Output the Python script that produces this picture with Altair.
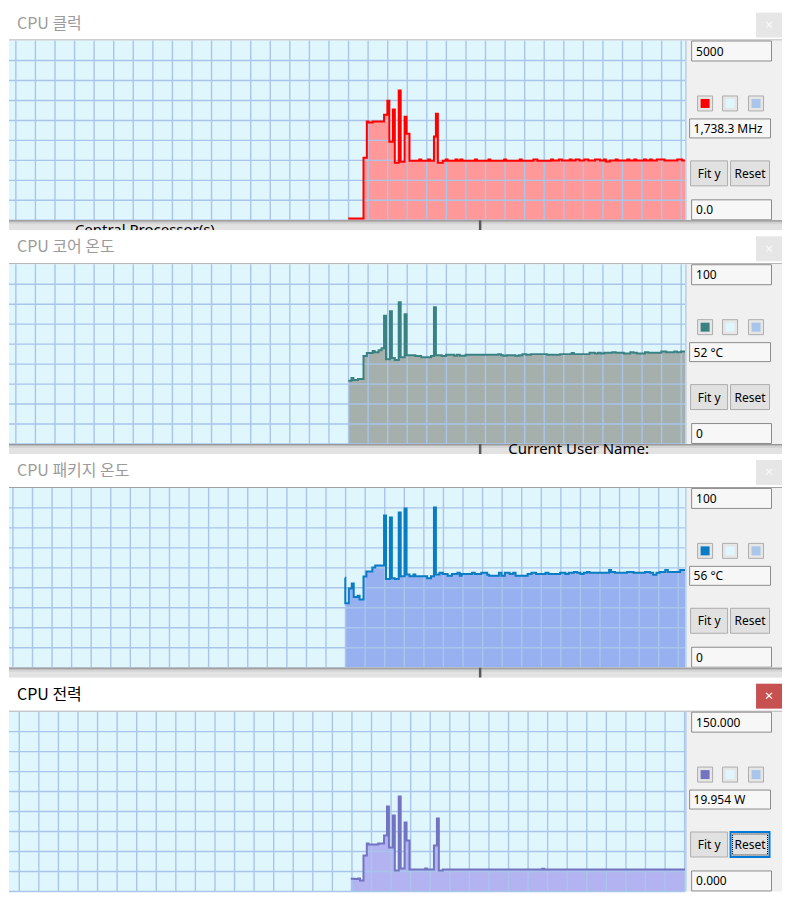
import altair as alt
import pandas as pd

# ---------------- data (time axis in graph steps, values in sensor units) ----------------
clock_t = [346.7, 362.3, 365.7, 367.3, 371.7, 383.3, 386.7, 388.7, 392.3, 394.3, 398.3, 400.3,
           404.3, 406.3, 409.3, 419.3, 421.3, 428.3, 430.3, 434.3, 436.3, 438.3, 443.3, 446.3,
           448.3, 456.3, 458.3, 461.3, 463.3, 476.3, 478.3, 490, 492, 506, 508, 522, 524, 536,
           540, 554, 556, 562, 565, 573, 575, 579, 583, 588, 592, 599, 604, 608, 610, 614, 620,
           622, 632, 634, 639, 641, 649, 651, 655, 657, 662, 670, 683, 688, 691]
clock_mhz = [50, 1742, 2750, 2720, 2750, 2935, 3325, 2186, 3083, 1602, 3611, 1630,
             2880, 2408, 1655, 1690, 1655, 1690, 1655, 2333, 2963, 1602, 1655, 1690,
             1655, 1690, 1655, 1690, 1655, 1690, 1655, 1690, 1655, 1690, 1655, 1690, 1655, 1690,
             1655, 1690, 1660, 1690, 1660, 1690, 1660, 1690, 1660, 1690, 1660, 1690, 1660, 1690, 1635, 1660, 1690,
             1660, 1690, 1660, 1690, 1660, 1690, 1660, 1690, 1660, 1690, 1660, 1690, 1660, 1660]

core_t = [346.7, 350, 352, 356.7, 362.3, 365.7, 371.7, 373.7, 377.7, 380.7, 383.3, 385.3, 389.3,
          391.3, 394.3, 398.3, 400.3, 404.3, 406.3, 415.3, 421.3, 431.3, 434.3, 436.3, 442.3,
          446.7, 455, 457.7, 460.7, 466.7, 500, 502.7, 505.3, 508.7, 517.3, 521.3, 524.7, 528.7,
          533.3, 550, 563.3, 575, 577.3, 593.3, 598.7, 602, 604.7, 608.3, 616.7, 620, 628.3, 635,
          638.3, 641.7, 650, 653.3, 666.7, 671.7, 680, 682.7, 686.7, 691]
core_c = [35.2, 36.7, 35.6, 36.1, 48.9, 50.6, 51.7, 51.1, 52.2, 53.3, 71.3, 47.2, 73.9,
          47.8, 46.7, 78.9, 48.3, 72.2, 49.4, 48.9, 48.3, 48.9, 76.1, 49.4, 48.9,
          49.6, 49.1, 49.6, 49.1, 49.6, 50.0, 49.4, 49.1, 49.4, 49.1, 49.4, 50.0, 49.6,
          50.0, 49.6, 50.0, 50.6, 50.0, 50.7, 50.3, 50.7, 50.3, 50.7, 51.1, 50.7, 50.3, 51.1,
          50.7, 50.3, 51.1, 50.7, 51.4, 51.1, 51.4, 51.1, 51.4, 51.4]

pkg_t = [343.3, 343.7, 347.3, 350.3, 352.3, 356.3, 358.3, 362.3, 365.3, 371.3, 374.3, 383.3,
         385.3, 389.3, 391.3, 394.3, 398.3, 400.3, 404.3, 406.3, 409.3, 413.3, 415.3, 427.3,
         431.3, 434.3, 436.3, 440, 443.3, 448.3, 452.7, 458.3, 460.7, 462.7, 473.3, 476, 482.7,
         488.7, 490.7, 500.7, 503.3, 506.7, 511.7, 515.3, 517.7, 530, 534, 538.7, 548.3, 551.3,
         563.3, 568.7, 572, 577.3, 580.7, 584, 587.3, 590.7, 593.3, 613.3, 615.3, 619.3, 631.7,
         638.3, 650, 655, 658.3, 661.7, 665, 670.7, 673.3, 686, 691]
pkg_c = [50.0, 35.8, 44.1, 46.9, 39.4, 40.0, 38.0, 50.8, 53.5, 55.8, 56.9, 84.7,
         49.3, 83.6, 49.8, 49.3, 86.3, 50.9, 88.6, 51.9, 50.9, 51.9, 50.9, 49.8,
         50.9, 89.1, 51.9, 52.8, 52.2, 51.1, 52.2, 52.8, 51.1, 52.2, 52.8, 52.2, 52.8,
         51.7, 51.1, 52.8, 51.1, 52.8, 52.2, 52.8, 51.1, 52.2, 52.8, 52.2, 52.8, 52.2,
         52.8, 52.2, 52.8, 53.3, 52.8, 52.2, 52.8, 53.3, 52.8, 54.4, 53.3, 52.8, 53.3,
         52.8, 53.3, 52.8, 51.7, 52.8, 53.3, 54.4, 53.3, 54.4, 54.4]

power_t = [349.3, 353.3, 356.7, 358.7, 362.3, 365.7, 367.3, 377.3, 383.3, 386.3, 388.3, 392.3,
           394.3, 398.3, 400.3, 404.3, 406.3, 409.3, 425.3, 427.3, 434.3, 437.3, 439.3, 443.3,
           545, 547, 691]
power_w = [10.5, 10.3, 10.8, 9.2, 30.0, 40.0, 39.2, 40.0, 46.7, 70.8, 36.7, 63.3,
           17.5, 79.2, 19.2, 57.5, 42.5, 18.3, 19.2, 18.3, 38.3, 60.8, 17.5, 18.3,
           19.0, 18.3, 18.3]

titles = ["CPU 클럭", "CPU 코어 온도", "CPU 패키지 온도", "CPU 전력"]
y_max = [5000, 100, 100, 150]
top_labels = ["5000", "100", "100", "150.000"]
current_labels = ["1,738.3 MHz", "52 °C", "56 °C", "19.954 W"]
bottom_labels = ["0.0", "0", "0", "0.000"]

# ---------------- style ----------------
W_PLOT, W_CTRL = 677, 97
W_ALL = W_PLOT + W_CTRL
H_PLOT, H_GAP = 180, 10
T_MAX = 691
BG = "#e0f6fd"
GRID = "#a9c5ea"
PANEL = "#f0f0f0"
FILLS = ["#ff9999", "#a5b0ad", "#97b0f0", "#b3b3f2"]
LINES = ["#ff0000", "#3a8282", "#0a7cc4", "#7373c2"]
GRID_OFF = [7, 7, 4, 10.5]
UI_FONT = "Noto Sans"
KR_FONT = "Noto Sans CJK KR"


def blank():
    return alt.Chart(alt.Data(values=[{}]))


def rect(x1, x2, y1, y2, fill, stroke=None, sw=1, dash=None, fill_opacity=None):
    kw = {"fill": fill}
    if stroke is not None:
        kw["stroke"] = stroke
        kw["strokeWidth"] = sw
    if dash is not None:
        kw["strokeDash"] = dash
    if fill_opacity is not None:
        kw["fillOpacity"] = fill_opacity
    return blank().mark_rect(**kw).encode(
        x=alt.value(x1), x2=alt.value(x2), y=alt.value(y1), y2=alt.value(y2))


def label(x, y, s, size=12, color="#000000", align="left", font=UI_FONT,
          baseline="middle", clip=False):
    return blank().mark_text(text=s, fontSize=size, color=color, align=align,
                             font=font, baseline=baseline, clip=clip).encode(
        x=alt.value(x), y=alt.value(y))


def title_bar(text, active, h):
    layers = [
        rect(0, W_ALL, 0, h, "#ffffff"),
        label(8, h - 17, text, size=16, color="#000000" if active else "#9b9b9b", font=KR_FONT),
        rect(W_ALL - 26, W_ALL, h - 28, h - 3, "#c75050" if active else "#e6e6e6"),
        label(W_ALL - 13, h - 15.5, "×", size=15, color="#ffffff" if active else "#f9f9f9",
              align="center"),
        rect(0, W_ALL, h - 1, h, "#a0a0a0"),
    ]
    return alt.layer(*layers).properties(width=W_ALL, height=h)


def gap_bar(text=None, tx=0, ty=0):
    layers = [rect(0, W_ALL, 0, H_GAP, "#e2e2e2"),
              rect(0, W_ALL, 0, 4, "#d4d4d4"),
              rect(0, W_ALL, 0, 2, "#b8b8b8"),
              rect(0, W_ALL, 0, 1, "#9a9a9a")]
    if text:
        layers.append(label(tx, ty, text, size=15, color="#000000", baseline="top", clip=True))
    layers.append(rect(470.5, 473, 0, H_GAP, "#5a5a5a"))
    return alt.layer(*layers).properties(width=W_ALL, height=H_GAP)


def controls(i):
    o = W_PLOT
    box_fill, box_stroke = "#f7f7f7", "#8c8c8c"
    btn_fill, btn_stroke = "#e1e1e1", "#adadad"
    L = [rect(o, o + W_CTRL, 0, H_PLOT, PANEL),
         rect(o, o + 1.5, 0, H_PLOT, "#b9cde6"),
         rect(o + 6.5, o + 86.5, 0.5, 20.5, box_fill, box_stroke),
         label(o + 11, 11, top_labels[i])]
    for sx, col in zip([12.5, 37.5, 63.5], [LINES[i], BG, GRID]):
        L.append(rect(o + sx, o + sx + 15, 55.5, 70.5, "#e6e6e6", "#adadad"))
        L.append(rect(o + sx + 3, o + sx + 12, 58.5, 67.5, col))
    L += [rect(o + 4.5, o + 85.5, 78.5, 97.5, box_fill, box_stroke),
          label(o + 8.5, 88.5, current_labels[i])]
    L += [rect(o + 5.5, o + 42.5, 120.5, 145.5, btn_fill, btn_stroke),
          label(o + 24, 133.5, "Fit y", align="center")]
    if i == 3:
        L += [rect(o + 45.5, o + 84.5, 120.5, 145.5, btn_fill, "#0078d7", sw=2),
              rect(o + 47.5, o + 82.5, 122.5, 143.5, btn_fill, "#000000", sw=1, dash=[1, 1],
                   fill_opacity=0)]
    else:
        L += [rect(o + 45.5, o + 84.5, 120.5, 145.5, btn_fill, btn_stroke)]
    L += [label(o + 65, 133.5, "Reset", align="center"),
          rect(o + 6.5, o + 86.5, 159.5, 179.5, box_fill, box_stroke),
          label(o + 11, 170, bottom_labels[i])]
    return L


def panel(i, t, v):
    ymax, fill, line, off = y_max[i], FILLS[i], LINES[i], GRID_OFF[i]
    df = pd.DataFrame({"t": t, "v": v})
    xs = alt.Scale(domain=[0, T_MAX], range=[0, W_PLOT], nice=False, zero=False)
    ys = alt.Scale(domain=[0, ymax], nice=False)
    x = alt.X("t:Q", scale=xs, axis=None)
    y = alt.Y("v:Q", scale=ys, axis=None)
    bg = rect(0, W_PLOT, 0, H_PLOT, BG)
    area = alt.Chart(df).mark_area(interpolate="step-after", color=fill, opacity=1).encode(x=x, y=y)
    gx = pd.DataFrame({"g": [off + 20 * k for k in range(40) if off + 20 * k < T_MAX]})
    gy = pd.DataFrame({"g": [ymax * k / 9 for k in range(9)]})
    vr = alt.Chart(gx).mark_rule(color=GRID, strokeWidth=1.4).encode(
        x=alt.X("g:Q", scale=xs, axis=None))
    hr = alt.Chart(gy).mark_rule(color=GRID, strokeWidth=1.4).encode(
        y=alt.Y("g:Q", scale=ys, axis=None), x=alt.value(0), x2=alt.value(W_PLOT))
    ln = alt.Chart(df).mark_line(interpolate="step-after", color=line, strokeWidth=2).encode(x=x, y=y)
    return alt.layer(bg, area, vr, hr, ln, *controls(i)).properties(width=W_ALL, height=H_PLOT)


series = [(clock_t, clock_mhz), (core_t, core_c), (pkg_t, pkg_c), (power_t, power_w)]

rows = []
for i in range(4):
    rows.append(title_bar(titles[i], i == 3, 32 if i == 0 else 34))
    t, v = series[i]
    rows.append(panel(i, t, v))
    if i == 0:
        rows.append(gap_bar("Central Processor(s)", 66, 2.5))
    elif i == 1:
        rows.append(gap_bar("Current User Name:", 500, -1.5))
    elif i == 2:
        rows.append(gap_bar())

chart = alt.vconcat(*rows, spacing=0, bounds="flush").properties(
    padding=0, background="#ffffff").configure_view(strokeWidth=0)

chart.save("out.html", embed_options={"renderer": "svg", "actions": False})
